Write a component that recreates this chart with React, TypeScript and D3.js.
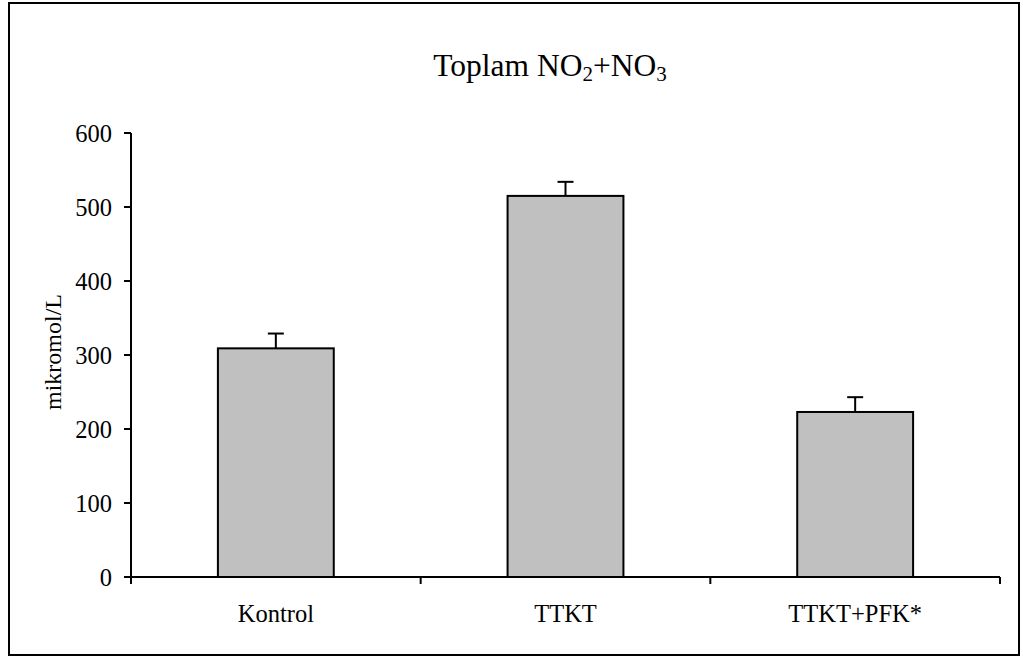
import React from "react";
import * as d3 from "d3";

const categories = ["Kontrol", "TTKT", "TTKT+PFK*"];
const values = [309, 515, 223];
const errors = [20, 19, 20];
const yTicks = [0, 100, 200, 300, 400, 500, 600];

const W = 1023;
const H = 657;
const FONT = "Liberation Serif, Times New Roman, serif";

export default function App() {
  const left = 131, right = 1000, top = 133, bottom = 577;
  const x = d3.scaleBand<string>().domain(categories).range([left, right]).paddingInner(0.6).paddingOuter(0.3);
  const y = d3.scaleLinear().domain([0, 600]).range([bottom, top]);
  const step = (right - left) / categories.length;
  const boundaries = d3.range(categories.length + 1).map((i) => left + i * step);
  const capHalf = 8;
  const LS = 24.5;

  return (
    <svg width={W} height={H} style={{ position: "absolute", left: 0, top: 0, background: "#fff", fontFamily: FONT }}>
      <rect x={9} y={3} width={1010} height={652} fill="#fff" stroke="#000" strokeWidth={2} />
      <text x={550} y={76} textAnchor="middle" fontSize={31.5} fill="#000" style={{ fontFamily: FONT }}>
        Toplam NO<tspan fontSize={21} dy={5}>2</tspan>
        <tspan dy={-5}>+NO</tspan>
        <tspan fontSize={21} dy={5}>3</tspan>
      </text>
      {categories.map((c, i) => {
        const bx = x(c)!;
        const cx = bx + x.bandwidth() / 2;
        return (
          <g key={c}>
            <line x1={cx} x2={cx} y1={y(values[i])} y2={y(values[i] + errors[i])} stroke="#000" strokeWidth={2} />
            <line x1={cx - capHalf} x2={cx + capHalf} y1={y(values[i] + errors[i])} y2={y(values[i] + errors[i])} stroke="#000" strokeWidth={2} />
            <rect x={bx} y={y(values[i])} width={x.bandwidth()} height={bottom - y(values[i])} fill="#c0c0c0" stroke="#000" strokeWidth={2} />
            <text x={cx} y={622} textAnchor="middle" fontSize={LS} fill="#000" style={{ fontFamily: FONT }}>{c}</text>
          </g>
        );
      })}
      <line x1={left} x2={left} y1={top} y2={bottom} stroke="#000" strokeWidth={2} />
      {yTicks.map((t) => (
        <g key={t}>
          <line x1={left - 7} x2={left} y1={y(t)} y2={y(t)} stroke="#000" strokeWidth={2} />
          <text x={112} y={y(t)} dy="0.35em" textAnchor="end" fontSize={LS} fill="#000" style={{ fontFamily: FONT }}>{t}</text>
        </g>
      ))}
      <line x1={left} x2={right} y1={bottom} y2={bottom} stroke="#000" strokeWidth={2} />
      {boundaries.map((b, i) => (
        <line key={i} x1={b} x2={b} y1={bottom} y2={bottom + 7} stroke="#000" strokeWidth={2} />
      ))}
      <text transform={`translate(61,352) rotate(-90)`} textAnchor="middle" fontSize={24} fill="#000" style={{ fontFamily: FONT }}>mikromol/L</text>
    </svg>
  );
}
